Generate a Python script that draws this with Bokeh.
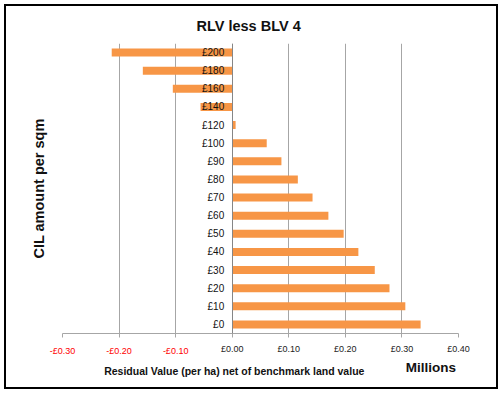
import math
from bokeh.plotting import figure
from bokeh.models import (Range1d, LinearAxis, FixedTicker, Title,
                          CustomJSTickFormatter, ColumnDataSource)
from bokeh.embed import file_html
from bokeh.resources import INLINE

# ---- data ----
categories = ["£0", "£10", "£20", "£30", "£40", "£50", "£60", "£70", "£80",
              "£90", "£100", "£120", "£140", "£160", "£180", "£200"]
values = [0.333, 0.306, 0.278, 0.252, 0.223, 0.197, 0.170, 0.142, 0.116,
          0.087, 0.061, 0.006, -0.056, -0.105, -0.158, -0.213]
x_ticks = [-0.3, -0.2, -0.1, 0.0, 0.1, 0.2, 0.3, 0.4]
title_text = "RLV less BLV 4"
y_title = "CIL amount per sqm"
x_title = "Residual Value (per ha)  net of benchmark land value"
unit_text = "Millions"

FONT = "Liberation Sans"
BAR = "#F79646"
GRID = "#A6A6A6"
ZERO = "#868686"
TXT = "#111111"

# horizontal anchors (x-axis units) for the two texts under the axis
X_TITLE_AT = 0.0062
UNIT_AT = 0.351

positions = list(range(len(categories)))
source = ColumnDataSource(dict(pos=positions, cat=categories, val=values))

p = figure(width=494, height=385, output_backend="svg", toolbar_location=None,
           x_range=Range1d(-0.3, 0.4),
           y_range=Range1d(-0.5, len(categories) - 0.5),
           min_border_left=56, min_border_right=42,
           min_border_top=37, min_border_bottom=58,
           styles={"border": "2px solid #000000", "margin": "4px 0 0 4px"})
p.outline_line_color = None
p.background_fill_color = "white"
p.border_fill_color = "white"

p.hbar(y="pos", left=0, right="val", height=0.44, source=source,
       fill_color=BAR, line_color=None)

# grid
p.ygrid.grid_line_color = None
p.xgrid.ticker = FixedTicker(ticks=x_ticks)
p.xgrid.grid_line_color = GRID
p.xgrid.grid_line_width = 1

# title
p.title.text = title_text
p.title.align = "left"
p.title.offset = 134
p.title.vertical_align = "top"
p.title.standoff = 16
p.title.text_font = FONT
p.title.text_font_size = "14.5px"
p.title.text_font_style = "bold"
p.title.text_color = TXT

# x axis (non-negative labels)
xa = p.xaxis[0]
xa.ticker = FixedTicker(ticks=x_ticks)
xa.formatter = CustomJSTickFormatter(
    code="return tick < -1e-9 ? '' : '£' + tick.toFixed(2);")
xa.axis_line_color = GRID
xa.major_tick_line_color = GRID
xa.major_tick_out = 4
xa.major_tick_in = 0
xa.minor_tick_line_color = None
xa.major_label_text_font = FONT
xa.major_label_text_font_size = "9px"
xa.major_label_text_color = "#222222"
xa.major_label_standoff = 6

# x axis (negative labels in red), pulled up onto the same row
xa2 = LinearAxis(ticker=FixedTicker(ticks=x_ticks),
                 formatter=CustomJSTickFormatter(
                     code="return tick < -1e-9 ? '-£' + Math.abs(tick).toFixed(2) : '';"),
                 axis_line_color=None, major_tick_line_color=None,
                 minor_tick_line_color=None,
                 major_tick_out=0, major_tick_in=0,
                 major_label_text_font=FONT, major_label_text_font_size="9px",
                 major_label_text_color="#FF0000", major_label_standoff=-11)
p.add_layout(xa2, "below")

# axis title text, placed as a single labelled tick
xa3 = LinearAxis(ticker=FixedTicker(ticks=[X_TITLE_AT]),
                 major_label_overrides={X_TITLE_AT: x_title},
                 axis_line_color=None, major_tick_line_color=None,
                 minor_tick_line_color=None,
                 major_tick_out=0, major_tick_in=0,
                 major_label_text_font=FONT, major_label_text_font_size="10.5px",
                 major_label_text_font_style="bold",
                 major_label_text_color=TXT, major_label_standoff=6)
p.add_layout(xa3, "below")

# "Millions" unit text
xa4 = LinearAxis(ticker=FixedTicker(ticks=[UNIT_AT]),
                 major_label_overrides={UNIT_AT: unit_text},
                 axis_line_color=None, major_tick_line_color=None,
                 minor_tick_line_color=None,
                 major_tick_out=0, major_tick_in=0,
                 major_label_text_font=FONT, major_label_text_font_size="13.5px",
                 major_label_text_font_style="bold",
                 major_label_text_color=TXT, major_label_standoff=-20)
p.add_layout(xa4, "below")

# y title
p.add_layout(Title(text=y_title, align="center", offset=-4,
                   vertical_align="top", standoff=28,
                   text_font=FONT, text_font_size="14.5px",
                   text_font_style="bold", text_color=TXT), "left")

# category axis drawn at zero
ya = p.yaxis[0]
ya.ticker = FixedTicker(ticks=positions)
ya.major_label_overrides = {i: c for i, c in zip(positions, categories)}
ya.fixed_location = 0
ya.axis_line_color = ZERO
ya.axis_line_width = 1
ya.major_tick_line_color = None
ya.major_tick_out = 0
ya.major_tick_in = 0
ya.minor_tick_line_color = None
ya.major_label_text_font = FONT
ya.major_label_text_font_size = "10px"
ya.major_label_text_color = TXT
ya.major_label_standoff = 8

open("out.html", "w").write(file_html(p, INLINE))
